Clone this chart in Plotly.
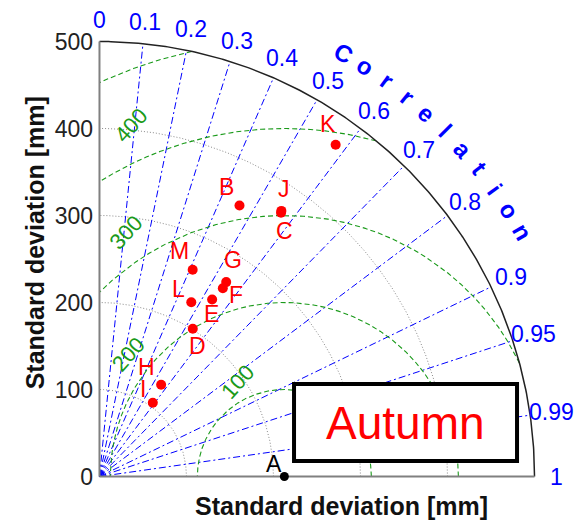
import numpy as np
import plotly.graph_objects as go

# ---------------- data ----------------
model_names = ["B", "C", "D", "E", "F", "G", "H", "I", "J", "K", "L", "M"]
model_std = [350.6, 368.0, 200.8, 241.1, 258.7, 266.7, 127.0, 104.6, 370.0, 468.0, 226.4, 260.6]
model_corr = [0.459, 0.567, 0.534, 0.537, 0.548, 0.546, 0.558, 0.586, 0.565, 0.580, 0.466, 0.411]

ref_name = "A"
ref_std = 212.5

corr_ticks = [0, 0.1, 0.2, 0.3, 0.4, 0.5, 0.6, 0.7, 0.8, 0.9, 0.95, 0.99, 1]
corr_tick_labels = ["0", "0.1", "0.2", "0.3", "0.4", "0.5", "0.6", "0.7", "0.8", "0.9", "0.95", "0.99", "1"]
std_ticks = [0, 100, 200, 300, 400, 500]
std_circles = [100, 200, 300, 400]
rms_levels = [100, 200, 300, 400, 500]
rms_labels = [100, 200, 300, 400]
season = "Autumn"
axis_title = "Standard deviation [mm]"
corr_title = "Correlation"

# ---------------- style / layout ----------------
W, H = 587, 520
RMAX = 500
PAD = 4
LO, HI = -PAD, RMAX + PAD
FONT = "Arial, Liberation Sans, sans-serif"
BLUE = "#0000ff"
GREEN = "#1a9a1a"
RED = "#ff0000"

# label offsets (pixels) for point labels
label_shift = {
    "A": (-10, -13), "B": (-13, -19), "C": (3, 18), "D": (5, 17), "E": (-1, 14),
    "F": (13, 7), "G": (7, -22), "H": (-15, -18), "I": (-10, -14), "J": (3, -22),
    "K": (-8, -21), "L": (-13, -13), "M": (-13, -19),
}
# RMS label placement: (angle around reference in deg, distance in mm)
rms_label_place = {100: (116, 122), 200: (142, 228), 300: (123, 334), 400: (113.6, 440)}


def to_paper(v):
    return (v - LO) / (HI - LO)


fig = go.Figure()

# gray std circles
th = np.linspace(0, np.pi / 2, 300)
for r in std_circles:
    fig.add_trace(go.Scatter(x=r * np.cos(th), y=r * np.sin(th), mode="lines",
                             line=dict(color="#8a8a8a", width=1, dash="1px,2px"),
                             hoverinfo="skip", showlegend=False))

# blue correlation lines
for c in corr_ticks:
    if c in (0, 1):
        continue
    s = np.sqrt(1 - c ** 2)
    fig.add_trace(go.Scatter(x=[0, RMAX * c], y=[0, RMAX * s], mode="lines",
                             line=dict(color=BLUE, width=1, dash="7px,3px,2px,3px"),
                             hoverinfo="skip", showlegend=False))

# green RMS arcs centred on reference
phi = np.linspace(0, np.pi, 4000)
for R in rms_levels:
    x = ref_std + R * np.cos(phi)
    y = R * np.sin(phi)
    m = (x >= 0) & (np.hypot(x, y) <= RMAX)
    fig.add_trace(go.Scatter(x=x[m], y=y[m], mode="lines",
                             line=dict(color=GREEN, width=1.1, dash="5px,3px"),
                             hoverinfo="skip", showlegend=False))

# outer arc
fig.add_trace(go.Scatter(x=RMAX * np.cos(th), y=RMAX * np.sin(th), mode="lines",
                         line=dict(color="#222222", width=1.5),
                         hoverinfo="skip", showlegend=False))

# axes lines
fig.add_trace(go.Scatter(x=[0, 0], y=[0, RMAX], mode="lines",
                         line=dict(color="#808080", width=2), hoverinfo="skip", showlegend=False))
fig.add_trace(go.Scatter(x=[0, RMAX], y=[0, 0], mode="lines",
                         line=dict(color="#808080", width=2), hoverinfo="skip", showlegend=False))

# model points
mx = [s * c for s, c in zip(model_std, model_corr)]
my = [s * np.sqrt(1 - c ** 2) for s, c in zip(model_std, model_corr)]
fig.add_trace(go.Scatter(x=mx, y=my, mode="markers", marker=dict(color=RED, size=10),
                         showlegend=False, cliponaxis=False))
# reference point
fig.add_trace(go.Scatter(x=[ref_std], y=[0], mode="markers", marker=dict(color="black", size=9),
                         showlegend=False, cliponaxis=False))

ann = []
for n, x, y in zip(model_names, mx, my):
    dx, dy = label_shift[n]
    ann.append(dict(x=x, y=y, xref="x", yref="y", text=n, showarrow=False,
                    xshift=dx, yshift=-dy, font=dict(color=RED, size=23, family=FONT)))
dx, dy = label_shift[ref_name]
ann.append(dict(x=ref_std, y=0, xref="x", yref="y", text=ref_name, showarrow=False,
                xshift=dx, yshift=-dy, font=dict(color="black", size=23, family=FONT)))

# correlation tick labels
for c, t in zip(corr_ticks, corr_tick_labels):
    s = np.sqrt(1 - c ** 2)
    rr = 525
    ann.append(dict(x=to_paper(rr * c), y=to_paper(rr * s), xref="paper", yref="paper",
                    text=t, showarrow=False, xanchor="center", yanchor="middle",
                    font=dict(color=BLUE, size=23, family=FONT)))

# "Correlation" curved title
for i, ch in enumerate(corr_title):
    ang = 60 - 3 * i
    rr = 562
    a = np.deg2rad(ang)
    ann.append(dict(x=to_paper(rr * np.cos(a)), y=to_paper(rr * np.sin(a)), xref="paper", yref="paper",
                    text="<b>%s</b>" % ch, showarrow=False, textangle=90 - ang,
                    xanchor="center", yanchor="middle",
                    font=dict(color=BLUE, size=24, family=FONT)))

# RMS labels
for R in rms_labels:
    ang, dist = rms_label_place[R]
    a = np.deg2rad(ang)
    ann.append(dict(x=ref_std + dist * np.cos(a), y=dist * np.sin(a), xref="x", yref="y",
                    text=str(R), showarrow=False, textangle=-48,
                    font=dict(color=GREEN, size=22, family=FONT)))

# axis titles
ann.append(dict(x=to_paper(278), y=-0.059, xref="paper", yref="paper", text="<b>%s</b>" % axis_title,
                showarrow=False, xanchor="center", yanchor="middle",
                font=dict(color="#111111", size=25, family=FONT)))
ann.append(dict(x=-0.136, y=to_paper(269), xref="paper", yref="paper", text="<b>%s</b>" % axis_title,
                showarrow=False, textangle=-90, xanchor="center", yanchor="middle",
                font=dict(color="#111111", size=25, family=FONT)))

# season box
box = dict(x0=223.6, x1=479.9, y0=17.8, y1=106.3)
fig.add_shape(type="rect", xref="x", yref="y", layer="above", **box,
              line=dict(color="black", width=4), fillcolor="white")
ann.append(dict(x=(box["x0"] + box["x1"]) / 2, y=(box["y0"] + box["y1"]) / 2, xref="x", yref="y",
                text=season, showarrow=False, font=dict(color=RED, size=46, family=FONT)))

fig.update_layout(
    width=W, height=H,
    margin=dict(l=96, r=49, t=38, b=40, pad=0),
    paper_bgcolor="white", plot_bgcolor="white",
    showlegend=False,
    annotations=ann,
    xaxis=dict(range=[LO, HI], showgrid=False, zeroline=False, showline=False,
               showticklabels=False, ticks=""),
    yaxis=dict(range=[LO, HI], showgrid=False, zeroline=False, showline=False,
               tickvals=std_ticks, ticktext=[str(v) for v in std_ticks], ticks="",
               ticklabelstandoff=2,
               tickfont=dict(size=23, color="#222222", family=FONT)),
)

fig.write_html("out.html")
